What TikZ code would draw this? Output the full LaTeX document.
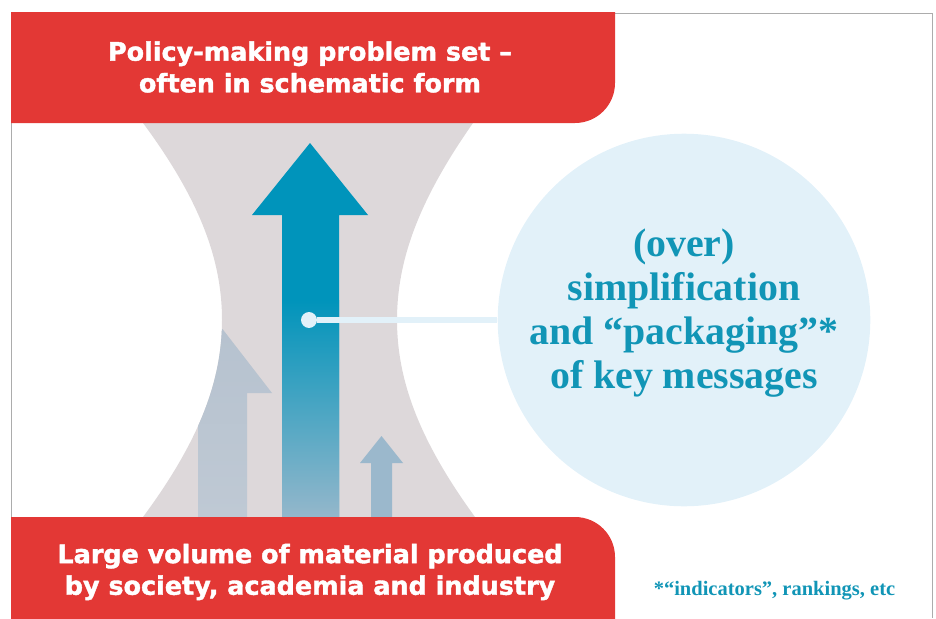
\documentclass[tikz,border=0pt]{standalone}
\usepackage{fontspec}
\newfontfamily\boxfont{DejaVu Sans}[BoldFeatures={FakeBold=1.6}]
\newfontfamily\msgfont{Liberation Serif}
\definecolor{boxred}{HTML}{E33835}
\definecolor{funnel}{HTML}{DDD8DA}
\definecolor{tealtop}{HTML}{0094BB}
\definecolor{tealbot}{HTML}{94B7CB}
\definecolor{pale}{HTML}{E2F1F9}
\definecolor{fadetop}{HTML}{B6C2CF}
\definecolor{fadebot}{HTML}{BFC9D4}
\definecolor{smallarrow}{HTML}{9BB8CC}
\definecolor{msgteal}{HTML}{1195B6}
\def\funnelpath{(143,123) .. controls (200,200) and (222,260) .. (222,320) .. controls (222,380) and (200,440) .. (143,517) -- (475,517) .. controls (419,440) and (397,380) .. (397,320) .. controls (397,260) and (419,200) .. (473,123) -- cycle}
\begin{document}
\begin{tikzpicture}[x=0.03cm,y=-0.03cm,
  boxtext/.style={text=white,align=center,font=\boxfont\bfseries\fontsize{21.7}{27}\selectfont},
  msgtext/.style={text=msgteal,align=center,font=\msgfont\bfseries\fontsize{34}{37.7}\selectfont}]
  \useasboundingbox (0,0) rectangle (936,618);
  \draw[gray!65,line width=0.7pt] (11,618) -- (11,13) -- (932,13) -- (932,618);
  \begin{scope}
    \clip (11,13) rectangle (936,618);
    % funnel and the faded arrows inside it
    \fill[funnel] \funnelpath;
    \begin{scope}
      \clip \funnelpath;
      \shade[top color=fadetop,bottom color=fadebot] (222.5,329) -- (272,393) -- (247,393) -- (247,517) -- (198,517) -- (198,393) -- (173,393) -- cycle;
      \fill[smallarrow] (381.5,436) -- (403,463) -- (392,463) -- (392,517) -- (371,517) -- (371,463) -- (360,463) -- cycle;
    \end{scope}
    % main arrow
    \fill[tealtop] (310,143) -- (368,215) -- (339,215) -- (339,517) -- (282,517) -- (282,215) -- (252,215) -- cycle;
    \shade[top color=tealtop,bottom color=tealbot] (282,300) rectangle (339,517);
    % red boxes
    \fill[boxred,rounded corners=1.2cm] (-60,-60) rectangle (615,123);
    \fill[boxred,rounded corners=1.2cm] (-60,517) rectangle (615,700);
  \end{scope}
  \node[circle,fill=pale,minimum size=318pt,inner sep=0pt] (bubble) at (684,320) {};
  \node[circle,fill=pale,minimum size=13.6pt,inner sep=0pt] (dot) at (309,320) {};
  \draw[pale,line width=5pt] (dot) -- (bubble);
  \node[msgtext] (msg) at (684,313) {(over)\\simplification\\and “packaging”*\\of key messages};
  \node[boxtext] (problem) at (310,67) {Policy-making problem set –\\often in schematic form};
  \node[boxtext] (material) at (310,572) {Large volume of material produced\\by society, academia and industry};
  \node[text=msgteal,anchor=base,font=\msgfont\bfseries\fontsize{17.5}{20}\selectfont] (note) at (774.5,595) {*“indicators”, rankings, etc};
\end{tikzpicture}
\end{document}
